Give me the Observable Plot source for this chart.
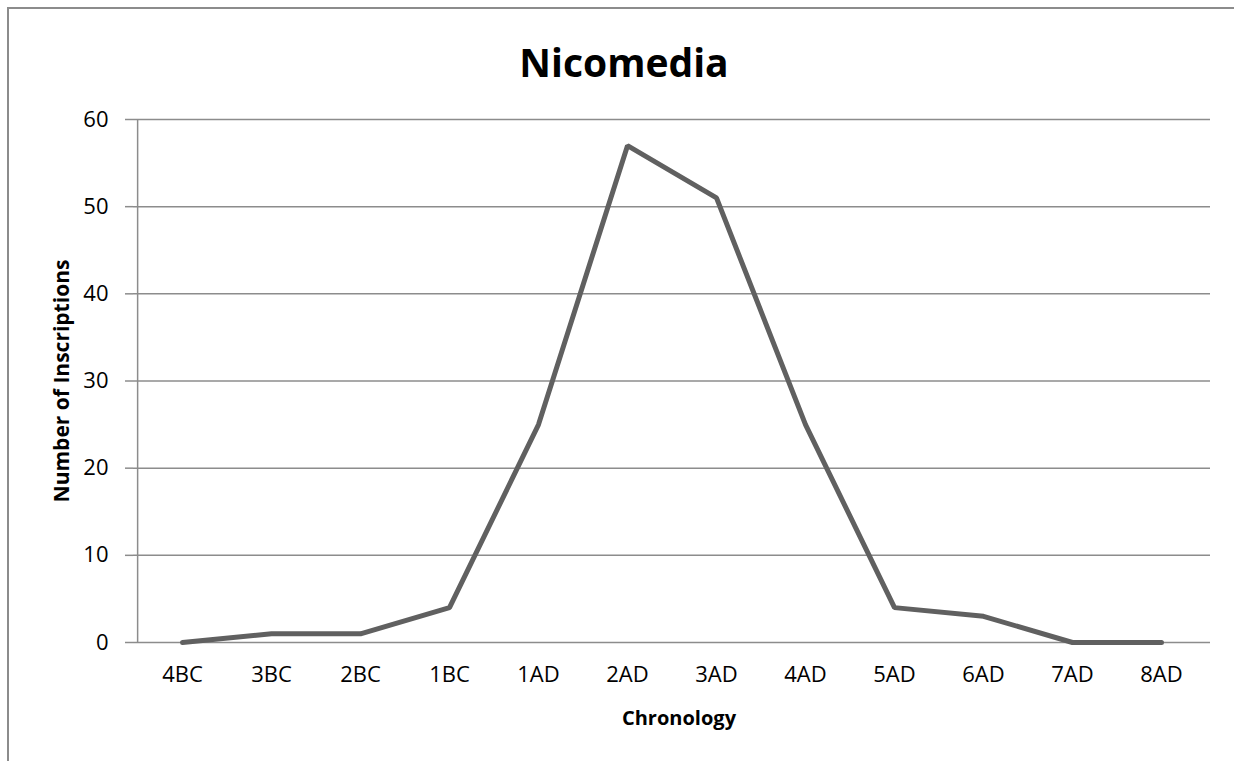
<!DOCTYPE html>
<html>
<head>
<meta charset="utf-8">
<script src="https://cdn.jsdelivr.net/npm/d3@7"></script>
<script src="https://cdn.jsdelivr.net/npm/@observablehq/plot@0.6"></script>
<style>
  html, body { margin: 0; padding: 0; background: #fff; overflow: hidden; }
  #wrap { position: relative; width: 1234px; height: 761px; overflow: hidden; }
  #frame { position: absolute; left: 7px; top: 7px; width: 1300px; height: 800px;
           border-left: 2px solid #8c8c8c; border-top: 2px solid #8c8c8c; box-sizing: border-box; }
  #chart { position: absolute; left: 0; top: 0; }
</style>
</head>
<body>
<div id="wrap"><div id="frame"></div><div id="chart"></div></div>
<script>
const title = "Nicomedia";
const xLabel = "Chronology";
const yLabel = "Number of Inscriptions";
const periods = ["4BC","3BC","2BC","1BC","1AD","2AD","3AD","4AD","5AD","6AD","7AD","8AD"];
const counts = [0, 1, 1, 4, 25, 57, 51, 25, 4, 3, 0, 0];
const yTicks = [0, 10, 20, 30, 40, 50, 60];

const data = periods.map((p, i) => ({period: p, count: counts[i]}));
const font = "'Open Sans', sans-serif";
const W = 1234, ML = 133, MR = 24;
const halfStep = (W - ML - MR) / periods.length / 2;

const chart = Plot.plot({
  width: W,
  height: 761,
  marginLeft: ML,
  marginRight: MR,
  marginTop: 119,
  marginBottom: 119,
  style: {fontFamily: font, background: "transparent", color: "#000"},
  x: {type: "point", domain: periods, padding: 0.5, label: null},
  y: {domain: [0, 60], label: null},
  marks: [
    Plot.gridY(yTicks, {stroke: "#8c8c8c", strokeOpacity: 1, strokeWidth: 1.5}),
    Plot.ruleX([periods[0]], {dx: -halfStep, stroke: "#8c8c8c", strokeWidth: 1.5}),
    Plot.axisY(yTicks, {tickSize: 8, tickPadding: 17, fontSize: 22, stroke: "#8c8c8c", strokeWidth: 1.5, fill: "#000", label: null}),
    Plot.axisX({tickSize: 0, tickPadding: 24, fontSize: 22, fill: "#000", label: null}),
    Plot.line(data, {x: "period", y: "count", stroke: "#606060", strokeWidth: 5, strokeLinejoin: "miter"}),
    Plot.text([title], {frameAnchor: "top", dx: -48, dy: -70, fontSize: 39, fontWeight: "bold", fill: "#000"}),
    Plot.text([xLabel], {frameAnchor: "bottom", dx: 7, dy: 82, fontSize: 20, fontWeight: "bold", fill: "#000"}),
    Plot.text([yLabel], {frameAnchor: "left", dx: -71, rotate: -90, textAnchor: "middle", fontSize: 21, fontWeight: "bold", fill: "#000"})
  ]
});
document.getElementById("chart").appendChild(chart);
</script>
</body>
</html>
